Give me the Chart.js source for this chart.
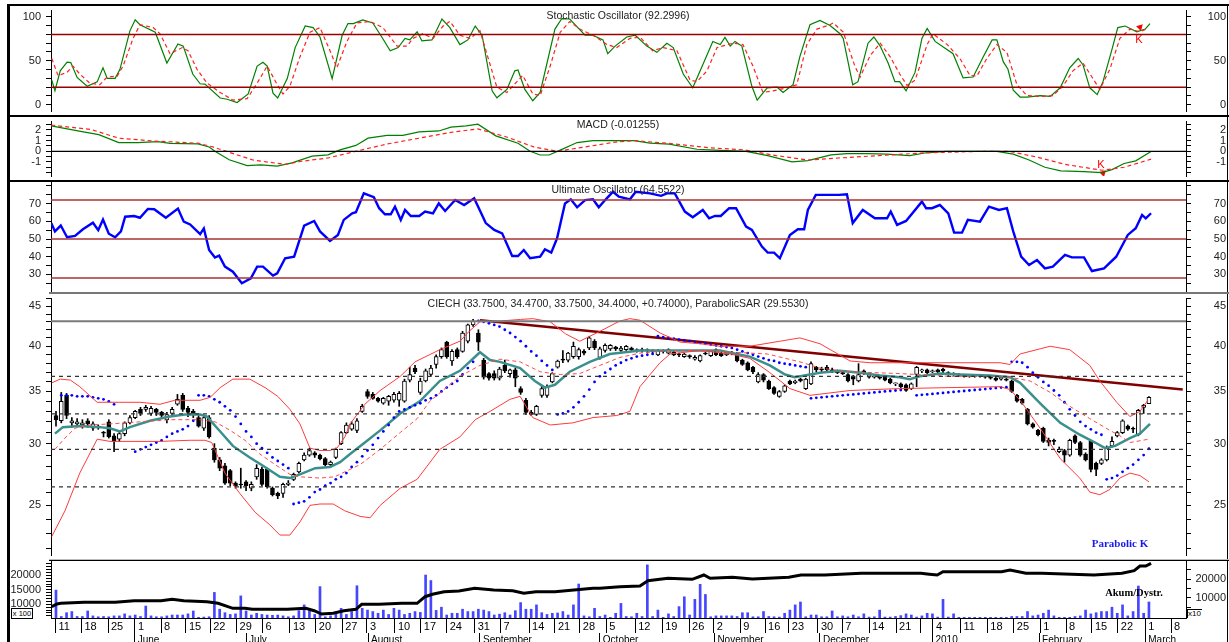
<!DOCTYPE html>
<html><head><meta charset="utf-8">
<script src="https://cdn.jsdelivr.net/npm/chart.js@4.4.1/dist/chart.umd.min.js"></script>
<style>
body{margin:0;background:#fff;width:1229px;height:642px;overflow:hidden;position:relative;font-family:"Liberation Sans",Arial,sans-serif;}
canvas{position:absolute;}
.ln{position:absolute;}
.t{position:absolute;white-space:nowrap;font-size:10.5px;color:#222;transform:translate(-50%,-50%);}
</style></head><body>
<canvas id="c1" width="1216" height="109" style="left:10px;top:6px"></canvas>
<canvas id="c2" width="1216" height="63" style="left:10px;top:117px"></canvas>
<canvas id="c3" width="1216" height="110" style="left:10px;top:182px"></canvas>
<canvas id="c4" width="1216" height="265" style="left:10px;top:294px"></canvas>
<canvas id="c5" width="1216" height="81" style="left:10px;top:561px"></canvas>

<div class="ln" style="left:7px;top:4px;width:3px;height:638px;background:#000"></div>
<div class="ln" style="left:7px;top:4px;width:1222px;height:2px;background:#000"></div>
<div class="ln" style="left:1227px;top:4px;width:1px;height:638px;background:#000"></div>
<div class="ln" style="left:7px;top:115px;width:1222px;height:2px;background:#000"></div>
<div class="ln" style="left:7px;top:180px;width:1222px;height:2px;background:#000"></div>
<div class="ln" style="left:49px;top:292px;width:1180px;height:2px;background:#777"></div>
<div class="ln" style="left:49px;top:559px;width:1180px;height:1px;background:#bbb"></div>
<div class="ln" style="left:49px;top:560px;width:1180px;height:1px;background:#000"></div>

<div class="t" style="left:618px;top:15px">Stochastic Oscillator (92.2996)</div>
<div class="t" style="left:618px;top:124px">MACD (-0.01255)</div>
<div class="t" style="left:618px;top:189px">Ultimate Oscillator (64.5522)</div>
<div class="t" style="left:618px;top:303px">CIECH (33.7500, 34.4700, 33.7500, 34.4000, +0.74000), ParabolicSAR (29.5530)</div>
<div class="t" style="left:1139px;top:39px;color:#f00;font-size:11px">K</div>
<div class="t" style="left:1101px;top:164px;color:#f00;font-size:11px">K</div>
<div class="t" style="left:1120px;top:543px;color:#1a1aee;font-family:'Liberation Serif',serif;font-weight:bold;font-size:11px">Parabolic K</div>
<div class="t" style="left:1134px;top:592px;color:#000;font-family:'Liberation Serif',serif;font-weight:bold;font-size:10.5px">Akum/Dystr.</div>
<div class="ln" style="left:11px;top:608px;width:20px;height:9px;border:1px solid #000;font-size:7.5px;line-height:9px;text-align:center;white-space:nowrap;background:#fff;overflow:hidden">x 100</div>
<div class="ln" style="left:1187px;top:609px;width:14px;height:8px;border-left:1px solid #000;border-top:1px solid #000;font-size:8px;line-height:8px;white-space:nowrap;background:#fff">x10</div>

<script>
// ---------- DATA ----------
const openP = [
32.6,32.1,34.6,31.9,31.8,31.7,32.1,31.4,31.6,31.0,
32.0,30.7,30.4,30.9,31.9,32.4,33.2,33.2,32.8,33.2,
32.9,32.2,32.8,33.7,34.6,33.3,33.0,32.4,31.4,32.4,
29.6,28.6,28.1,27.7,26.7,26.6,26.8,26.3,27.2,27.8,
27.8,26.3,25.9,25.9,26.6,27.0,27.6,28.6,29.0,29.2,
29.0,28.7,28.2,28.8,30.0,31.0,31.3,31.2,33.0,35.0,
34.7,34.3,33.8,34.0,34.1,34.1,34.0,36.2,37.5,34.9,
36.1,36.8,37.9,38.8,40.5,38.3,39.6,39.4,40.6,42.6,
41.6,38.4,36.9,36.9,36.4,37.8,36.9,37.3,35.3,34.1,
32.9,32.7,34.6,34.6,36.0,37.6,38.5,38.4,38.8,38.8,
39.4,39.8,40.6,38.7,39.5,39.7,39.9,39.5,39.6,39.8,
39.5,39.6,39.5,39.4,39.0,39.5,39.2,39.3,39.1,38.8,
38.9,38.5,38.3,39.2,38.9,39.6,39.2,39.0,39.3,39.2,
38.4,38.1,37.6,36.0,36.8,36.1,35.4,34.5,35.0,36.1,
35.9,36.3,35.3,35.8,37.6,37.4,37.6,37.3,37.1,37.0,
36.8,36.6,36.1,37.2,36.5,36.5,36.5,36.5,36.3,35.8,
35.8,35.7,35.3,36.8,37.2,37.3,37.1,37.3,37.4,36.8,
36.9,36.8,36.7,36.6,36.7,36.6,36.6,36.5,36.4,36.3,
36.3,36.1,34.6,34.2,33.2,31.8,31.2,31.4,30.3,30.3,
29.3,29.4,29.0,30.7,30.1,29.1,30.2,28.3,28.3,28.6,
29.8,30.7,31.0,31.6,31.4,30.8,33.4,33.75];
const highP = [
33.0,34.9,34.8,32.4,32.3,32.2,32.3,32.0,31.7,31.1,
32.2,30.9,31.0,32.0,32.6,33.1,33.4,33.6,33.5,33.3,
33.0,32.9,33.4,34.7,34.8,33.5,33.2,32.6,32.5,32.6,
30.0,28.8,28.3,27.8,26.8,27.9,26.9,26.8,28.2,28.0,
27.9,26.4,26.0,26.7,26.9,27.5,28.4,29.2,29.6,29.3,
29.1,28.8,28.5,29.6,31.1,31.9,32.0,32.3,33.7,35.2,
34.9,34.4,34.4,34.6,34.9,35.0,36.3,37.6,37.8,36.4,
37.4,37.8,39.0,39.8,40.6,39.6,39.8,41.8,42.7,43.3,
42.0,38.6,37.0,37.2,37.6,38.4,37.4,37.5,35.5,34.3,
33.1,33.6,35.6,35.7,37.0,38.4,39.5,39.3,40.5,39.8,
39.6,41.2,40.8,39.9,40.3,40.2,40.0,40.0,40.1,39.9,
39.7,39.8,39.7,39.6,39.6,39.6,39.7,39.4,39.2,39.2,
39.0,38.9,39.0,39.3,39.5,39.7,39.3,39.4,39.4,39.3,
38.5,38.2,37.7,37.0,36.9,36.2,35.5,35.1,35.7,36.2,
36.2,36.4,36.4,38.2,37.7,37.6,37.8,37.5,37.3,37.1,
36.9,36.7,38.0,37.3,36.9,36.7,36.6,36.6,36.4,35.9,
35.9,35.8,35.9,37.7,37.4,37.4,37.3,37.4,37.5,37.1,
37.0,36.9,36.8,36.8,36.8,36.7,36.7,36.6,36.5,36.6,
36.4,36.2,34.7,34.3,33.3,31.9,31.3,31.5,30.5,30.4,
29.7,29.5,30.4,30.8,30.2,29.2,30.3,28.4,28.7,29.8,
30.6,31.1,32.2,31.7,31.5,33.2,33.7,34.47];
const lowP = [
31.6,31.9,32.3,31.5,31.6,31.4,31.5,31.2,31.3,30.6,
30.5,29.3,30.2,30.7,31.8,32.3,32.6,33.0,32.6,32.6,
32.3,31.9,32.7,33.6,33.0,32.5,32.4,31.5,31.2,30.5,
28.4,27.7,26.6,26.5,26.3,26.3,26.1,26.1,27.0,26.5,
26.3,25.7,25.5,25.6,26.5,26.9,27.5,28.5,28.9,28.8,
28.6,28.1,28.0,28.7,29.9,30.9,31.2,31.0,32.9,34.3,
34.2,33.9,33.7,33.6,33.9,33.5,33.9,36.0,36.9,34.7,
36.0,36.6,37.5,38.6,38.6,37.8,38.6,39.3,40.4,42.4,
39.5,36.3,36.2,36.2,36.2,37.0,36.5,35.5,34.7,32.7,
32.6,32.6,34.4,34.4,35.9,37.5,38.1,38.2,38.6,38.5,
39.0,39.6,39.6,38.5,39.3,39.5,39.5,39.4,39.5,39.4,
39.3,39.3,39.2,39.2,38.9,39.2,39.1,38.9,38.8,38.7,
38.6,38.4,38.2,39.0,38.8,38.9,38.8,38.9,39.0,38.2,
37.8,37.2,36.9,35.9,36.0,35.2,34.7,34.4,34.9,35.7,
35.8,36.0,35.2,35.7,37.1,37.1,37.2,37.0,36.9,36.8,
36.0,35.7,36.0,36.8,36.4,36.4,36.3,36.1,35.8,35.6,
35.4,35.0,35.2,35.5,37.0,36.9,37.0,37.0,36.9,36.7,
36.7,36.6,36.5,36.5,36.5,36.5,36.4,36.3,36.1,36.2,
36.1,34.9,33.9,33.7,31.7,31.4,30.7,30.1,29.8,29.9,
29.2,28.4,28.9,30.0,28.9,28.5,27.6,27.3,28.2,28.5,
29.7,30.6,30.9,31.2,31.0,30.7,32.8,33.75];
const closeP = [
32.2,34.0,32.6,32.1,32.0,31.9,31.8,31.8,31.5,30.95,
30.6,30.2,30.9,31.9,32.4,33.0,32.8,33.4,33.3,32.9,
32.6,32.7,33.2,34.2,33.2,32.9,32.7,31.6,32.4,30.6,
28.6,27.9,26.7,26.7,26.5,26.55,26.5,26.6,27.9,26.6,
26.4,25.8,25.7,26.6,26.7,27.4,28.3,29.0,29.4,29.0,
28.7,28.2,28.4,29.5,31.0,31.7,31.8,32.1,33.5,34.5,
34.3,34.0,34.3,34.5,34.7,34.8,36.1,36.8,37.1,36.1,
37.2,37.5,38.8,39.6,38.8,39.4,38.8,41.6,42.6,43.1,
40.5,36.5,36.4,36.4,37.4,37.2,37.3,36.4,34.9,32.9,
32.7,33.5,35.3,35.5,36.9,38.3,38.4,39.2,40.0,39.6,
39.2,41.0,39.8,39.7,40.1,40.1,39.7,39.8,40.0,39.6,
39.6,39.5,39.6,39.4,39.5,39.4,39.6,39.0,39.0,39.1,
38.8,38.7,38.9,39.1,39.4,39.0,38.9,39.3,39.1,38.3,
37.9,37.3,37.1,36.8,36.2,35.3,34.8,35.0,35.6,35.8,
36.1,36.1,36.3,38.0,37.3,37.3,37.3,37.1,37.0,36.9,
36.1,36.3,36.8,36.9,36.8,36.6,36.4,36.2,35.9,35.8,
35.5,35.1,35.8,37.6,37.2,37.0,37.2,37.1,37.2,37.0,
36.8,36.7,36.6,36.7,36.6,36.6,36.5,36.4,36.2,36.5,
36.2,35.0,34.0,33.8,31.8,31.5,30.8,30.2,30.1,30.2,
29.5,29.0,30.3,30.1,29.0,28.6,27.8,27.8,28.6,29.6,
30.2,31.0,32.1,31.3,31.3,33.1,33.6,34.40];
const volume = [
14900,5800,7100,7500,5800,5800,7700,6000,5700,5800,
5700,6000,6000,6700,6000,6300,5800,9400,6000,5700,
5700,6000,6300,6300,6300,6700,7700,5500,5600,5700,
14100,8300,7100,6500,6700,12900,7700,6300,6900,6500,
6300,6200,6300,6000,5700,6000,7800,9800,7800,6500,
16100,5700,6000,6900,8600,6500,7500,16400,8600,8000,
7500,6900,8000,6500,8600,8000,6500,6900,7500,7200,
20100,18200,7900,9000,6300,6900,6900,8300,7500,7500,
8300,8000,7500,6300,6600,7100,6300,7800,10600,8300,
8300,9800,7100,6500,6900,7000,7500,6300,9800,17000,
6000,5700,8600,5800,6300,5500,6900,10300,5800,5700,
6900,5800,23600,5800,8000,5500,6700,5800,9200,12600,
6300,11700,16900,13400,5700,6000,6000,6000,6000,5800,
7100,7100,5700,5700,7500,5800,5700,5600,6900,8000,
9800,10800,5700,6300,6300,5700,5700,7700,5700,6000,
5700,6300,5700,6700,5600,5700,8000,5600,5600,5800,
6100,6700,6300,5600,6000,6900,6700,5600,11700,5600,
6700,5500,5500,5500,5500,5500,5500,5500,5500,5500,
5500,5800,5800,5800,7500,6000,6300,6900,8000,6000,
5500,5500,5500,5800,6000,8000,6700,7100,7500,7500,
9000,6900,9800,6000,7500,16300,6900,10800];
const parabolicSar = [null,
34.6,34.6,34.6,34.5,34.5,34.5,34.4,34.3,34.2,34.0,33.7,
null,null,null,
29.3,29.5,29.7,29.9,30.1,30.3,30.6,30.9,31.1,31.3,31.6,32.1,
34.6,34.6,34.5,34.2,33.9,33.5,33.1,32.5,31.8,31.1,30.6,30.0,29.6,29.2,28.8,28.5,28.2,27.9,
25.1,25.2,25.3,25.6,26.0,26.2,26.5,26.7,27.0,27.2,27.5,28.0,28.4,28.9,29.4,29.9,30.5,31.1,31.7,32.4,
33.0,33.2,33.4,33.6,33.8,34.1,34.3,34.6,35.0,35.4,35.8,36.1,36.8,37.5,38.2,
43.1,43.0,42.8,42.6,42.4,42.0,41.6,41.1,40.6,40.0,39.4,38.9,38.3,37.8,37.3,
32.7,32.8,33.0,33.4,33.9,34.5,35.2,36.0,36.6,37.0,37.4,37.8,38.1,38.4,38.6,38.8,38.9,39.0,39.1,
41.2,41.1,41.0,40.9,40.8,40.7,40.6,40.5,40.4,40.3,40.2,40.1,40.0,39.9,39.8,39.6,39.4,39.2,39.0,38.8,38.6,38.4,38.3,38.1,38.0,37.9,37.8,37.7,37.6,
34.3,34.35,34.4,34.45,34.5,34.55,34.6,34.65,34.7,34.75,34.8,34.85,34.9,34.95,35.0,35.05,35.1,35.15,
null,null,
34.6,34.65,34.7,34.75,34.8,34.85,34.9,34.95,35.0,35.05,35.1,35.15,35.2,35.25,35.3,35.35,35.4,35.45,
38.2,38.2,38.1,37.6,37.0,36.5,36.0,35.6,35.1,34.6,33.9,33.2,32.6,32.0,31.6,31.3,31.0,30.8,
27.0,27.1,27.3,27.6,27.9,28.2,28.6,29.0,29.55];

// [trading-day index, value]
const maFast = [[-0.2,30.9],[1.3,31.5],[4.5,31.6],[8.3,31.5],[10.2,31.4],[12.1,31.1],[14,31.5],[17.8,32.1],[21.6,32.5],[24.4,32.7],[27.3,32.7],[28.6,32.5],[31.1,31.1],[33.5,29.8],[36.7,28.8],[39.2,28.1],[42.4,27.2],[44.3,27.1],[46.2,27.4],[49.1,27.9],[51.9,28.0],[53.8,28.4],[55.7,29.1],[58.5,30.1],[61.4,31.2],[65.2,32.8],[68.9,34.0],[72.7,36.1],[76.5,37.2],[80.3,39.3],[82.2,38.4],[84.1,38.2],[87.9,37.5],[90.7,36.1],[92.6,35.4],[94.5,35.7],[97.3,37.1],[101.1,38.2],[104.9,39.1],[110.6,39.5],[118.2,39.5],[125.8,39.5],[131.4,38.8],[135.2,37.8],[138.1,36.8],[139.9,36.5],[142.8,36.8],[144.7,37.0],[148.5,37.2],[152.3,37.0],[156.1,36.7],[159.8,36.5],[161.7,36.3],[163.6,36.6],[167.4,36.9],[171.2,36.8],[176.9,36.7],[180.7,36.5],[182.6,35.9],[186.4,33.8],[190.2,31.9],[193.9,30.8],[196.8,30.1],[198.7,29.6],[200.6,29.8],[203.4,30.5],[205.3,30.9],[207.2,31.8]];
const bbUpper = [[-0.8,35.9],[0.8,36.3],[2.7,36.2],[4.5,35.5],[7.8,33.9],[12.1,33.9],[15.9,33.9],[19.7,33.7],[22.5,34.1],[27.3,34.1],[29.2,34.4],[31.1,35.4],[33.5,36.3],[36.7,36.3],[39.6,35.4],[42,34.5],[44.3,33.2],[46.2,31.8],[48.1,29.6],[50,29.4],[51.9,29.4],[53.2,29.6],[54.7,30.6],[55.7,31.8],[58.5,33.7],[61.4,35.1],[65.2,36.6],[68,38.2],[72.7,39.6],[76.5,40.6],[78.4,41.9],[80.3,43.0],[84.1,43.1],[88,43.3],[90.3,43.4],[93.6,43.0],[96.5,41.5],[99.2,40.6],[103,41.8],[106.8,43.1],[108.7,43.4],[110.6,43.2],[114.4,41.6],[118.2,40.5],[122,40.3],[125.8,40.0],[131.4,40.0],[137.1,40.6],[140.9,41.0],[144.7,40.3],[150.4,38.3],[154.2,38.1],[160,38.1],[170,38.1],[178.8,38.1],[180.7,37.9],[182.6,39.1],[186.4,39.7],[188.3,40.0],[192,39.6],[195.8,37.8],[197.7,36.1],[200.9,33.9],[203.4,32.5],[205.3,33.0],[206.8,34.1]];
const bbMiddle = [[-0.2,29.5],[1.7,30.5],[3.6,31.4],[6.4,31.7],[10.2,31.8],[15.9,32.0],[21.6,32.2],[27.3,32.2],[30.1,32.0],[33,31.2],[35.8,30.3],[38.6,29.1],[41.5,28.2],[44.3,27.4],[46.2,27.2],[50,27.1],[52.8,27.2],[54.7,27.6],[57.6,28.2],[61.4,29.5],[65.2,31.0],[68.4,32.3],[70.8,34.0],[76.5,36.6],[80.3,37.8],[84.1,38.5],[87.9,38.2],[91.7,37.1],[95.5,36.8],[99.2,36.9],[103,37.8],[106.8,38.7],[110.6,39.2],[115.7,39.5],[122,39.5],[128.2,39.3],[134.7,39.1],[140.9,38.2],[144.7,37.5],[150.4,37.1],[159.8,36.9],[169.3,36.6],[178.8,36.6],[180.7,36.5],[184.5,36.1],[188.3,34.9],[192,33.5],[195.8,32.3],[199.6,31.2],[201.5,30.7],[203.4,30.1],[207,30.4]];
const bbLower = [[-0.8,22.8],[1.7,24.6],[4.5,27.5],[7.8,30.4],[10.2,30.2],[14,30.2],[19.7,30.2],[25.4,30.3],[28.2,30.3],[29.5,30.1],[32,27.5],[34.8,25.9],[37.7,24.5],[40.5,23.6],[42.4,22.9],[44.3,22.9],[46.2,23.8],[48.1,25.0],[50,25.1],[52.5,25.1],[54.7,24.6],[57.6,24.2],[59.5,24.1],[61.4,25.0],[65.2,26.3],[68.4,27.0],[72.7,29.5],[76.5,30.6],[79.4,32.2],[82.2,33.0],[86,34.2],[87.9,34.5],[90.3,32.4],[93.6,31.7],[97.9,31.9],[101.7,32.4],[106.2,32.6],[108.7,33.0],[110.6,35.5],[114.4,38.1],[116.3,39.1],[122,39.5],[127.7,39.1],[131.4,38.6],[135.2,37.0],[139,35.3],[142.8,34.6],[150.4,35.1],[159.8,35.3],[169.3,35.4],[178.8,35.5],[180.7,35.2],[182.6,34.1],[186.4,31.4],[190.2,28.7],[193.9,27.1],[195.8,26.0],[197.7,25.8],[199.6,26.2],[201.5,27.1],[203.4,27.5],[205.3,27.3],[207,26.8]];
const trendLine = [[80.3,43.2],[213.4,35.2]];
const levelSolid = [43.07];
const levelsDashed = [36.6, 32.75, 29.5, 26.4];

const stochK = [[-0.8,28],[-0.2,16],[0.8,38.6],[2.1,48.4],[2.8,48],[4,31],[5.9,21],[7.8,26],[8.9,42],[9.7,30],[11.2,30],[12.1,40],[14,84],[15,96.5],[15.9,91],[18.8,82.5],[21,47.4],[23.1,69],[24.1,66.7],[25.9,35],[27.3,23.9],[28.2,23.5],[31.1,7.7],[32.4,6.3],[34.3,2.5],[36.4,12.3],[38.1,44],[39.2,48.4],[40,44],[41.1,13.3],[42,7.7],[43.8,29.8],[45.3,65],[47.2,89.5],[48.7,87.7],[50,77],[52.3,29.8],[54.2,79],[55.3,92.3],[56.3,92.3],[58.1,96.5],[60,93],[61.7,77],[63.3,61.4],[64.8,65],[66.1,75.4],[67,73.7],[68.4,83],[69.3,72.6],[71.2,73.7],[73.1,97.5],[74.6,87.7],[76.5,68.4],[78,73.7],[79.4,89.5],[80.7,79],[82.6,15.8],[83.5,8],[85.4,17.5],[86.9,38.6],[87.5,39.6],[88.8,17.5],[90.3,4.6],[91.7,14],[94.5,86],[95.8,98],[97.3,97.5],[100.2,79],[101.7,79],[103.6,73.7],[104.5,58],[105.9,66.7],[108.1,77],[109.7,79],[111.9,66.7],[113.8,59.6],[115.7,70],[116.9,65],[118.8,35],[120.6,19.3],[122.5,45.6],[124.4,72],[125.8,68.4],[126.7,76.5],[127.7,66.7],[128.6,72],[129.9,66.7],[131.8,21],[132.8,5.3],[134.7,19.3],[136.6,20],[137.7,14],[139.6,22.8],[140.9,55],[142.8,91],[144.7,95.8],[146.6,90],[148.5,80.7],[149.1,75.4],[150.9,22.8],[151.9,26.3],[153.8,70],[154.9,77],[156.1,66.7],[157.6,47.4],[158.9,26.3],[159.8,26.3],[161,15.8],[162.7,36.8],[164,75.4],[165,86.7],[166.5,72],[169.9,58],[171.8,30.5],[173.7,31.6],[175.6,54.4],[177.3,73.7],[178.2,73.7],[179.4,49],[180.3,40.4],[181.3,16.5],[182.6,8.8],[183.9,8.8],[186.4,10.5],[188.3,9.5],[190.2,19.3],[192,42],[193.6,52.6],[194.5,45.6],[195.8,19.3],[197.2,11.6],[198.3,26.3],[200,63],[201.1,87.7],[202.5,89.5],[204.7,83],[206.3,86],[207.2,92.3]];
const stochD = [[-0.8,52.6],[0.4,33],[2.1,37],[3.2,44],[4.5,35],[6.4,24.6],[8.3,22.8],[9.7,31.6],[11.6,32.6],[12.7,44],[14.6,75.4],[15.9,91],[18.4,87.7],[19.7,80.7],[21.6,58],[23.9,65],[25,61.4],[26.7,40.4],[28.6,24.6],[31.1,14],[33.5,5.3],[36.2,7],[38.1,24.6],[40,44],[41.9,22.8],[43,12.3],[44.3,21],[46.2,54.4],[48.1,82.5],[50,87.7],[51.9,61.4],[53.2,42],[55.1,72],[57,93],[59.5,94.7],[61.9,87.7],[64.6,66.7],[66.5,66.7],[67.6,75.4],[69.5,80.7],[71.4,75.4],[73.3,89.5],[74.6,94.7],[76.5,79],[78.4,75.4],[80.3,84],[81.6,58],[83.5,20],[85.4,14],[87.3,26.3],[88.4,33.3],[90.3,12.3],[91.7,10.5],[93.6,44],[95.5,82.5],[97.3,94.7],[99.2,86],[101.7,79],[104.4,68.4],[106.2,65],[108.7,75.4],[110.6,77],[113,61.4],[115,65],[117.6,61.4],[120.1,28],[121.4,26.3],[123.3,38.6],[125.2,65],[128.2,70],[130.1,68.4],[132,44],[133.9,14],[135.8,15.8],[138.4,19.3],[140.3,22.8],[142.2,68.4],[144.1,86],[146.6,91],[147.2,93],[149.1,82.5],[151.3,44],[152.3,31.6],[154.2,56],[156.1,70],[158,54.4],[159.8,35],[161.2,22],[162.7,28],[165,68.4],[166.1,80.7],[168.8,68.4],[171.2,52.6],[173.1,33.3],[174.4,32.6],[176.3,52.6],[178.2,68.4],[180.1,59.6],[182,22.8],[183.9,10.5],[186.4,9.5],[188.8,10.5],[190.7,21],[192.6,38.6],[194.5,47.4],[196.2,31.6],[197.7,17.5],[199.6,40.4],[201.5,75.4],[203.4,86],[205.3,83],[206.8,86.7]];
const stochLevels = [80, 20];
const stochSignal = [[205.3,88.2]];

const macdLine = [[-0.9,2.38],[4.4,1.9],[8.1,1.56],[11.9,0.82],[15.5,0.82],[19.3,0.9],[21.6,0.75],[26.9,0.7],[29,0.4],[30.1,0],[32.8,-0.8],[36.2,-1.35],[38.8,-1.27],[41.9,-1.4],[44.7,-1.09],[48.5,-0.46],[51.5,-0.33],[53.8,0.13],[56.8,0.55],[59.1,1.23],[62.7,1.5],[65.7,1.5],[68.8,1.83],[72.5,1.91],[74.8,2.27],[77.7,2.38],[79.9,2.54],[83.3,1.45],[87.5,0.76],[89.8,0],[91.7,-0.35],[93.4,-0.35],[95.6,0.13],[98.7,0.82],[101.7,1.0],[106.4,1.0],[109.5,1.0],[112.5,0.76],[116.1,0.68],[121.4,0.19],[125.9,0.08],[130.7,0],[134.8,-0.41],[139.4,-1.0],[142.4,-0.87],[146.8,-0.33],[149.8,-0.22],[153.6,-0.22],[157.4,-0.27],[161.7,-0.41],[164.8,-0.14],[168.6,0],[172.3,0],[178.2,0],[181.3,-0.27],[184.3,-0.82],[187.3,-1.5],[190.3,-1.83],[194.7,-1.9],[198.1,-2.0],[200,-1.72],[202.3,-1.15],[204.5,-0.9],[207.4,-0.01]];
const macdSignal = [[-0.9,2.46],[6.6,2.05],[11.9,1.23],[18.6,0.96],[26.9,0.76],[29.7,0.41],[37.3,-0.82],[43.4,-1.23],[46.2,-0.96],[51.5,-0.63],[56.8,0],[62.7,0.68],[68.8,1.23],[74.8,1.78],[79.9,2.1],[85.2,1.37],[90.5,0.41],[94.9,0],[100.2,0.41],[106.4,0.9],[109.5,1.0],[116.1,0.74],[123.7,0.33],[130.3,0.14],[136.4,-0.41],[142.4,-0.82],[148.3,-0.63],[157.4,-0.36],[164.8,-0.14],[175.9,0],[180.5,0],[185.8,-0.55],[191.1,-1.23],[198.1,-1.78],[202.3,-1.5],[207.4,-0.74]];
const macdSignalMark = [[198.3,-2.05]];

const ultOsc = [[-0.9,59],[-0.2,54.3],[0.9,57.6],[2.1,51],[3.6,51.7],[5.1,55.5],[7,59.2],[8,55],[8.9,61],[10,53],[11.2,51],[12.3,54.3],[13.1,62.6],[14.8,63],[15.9,62],[17.4,67],[18.6,66.8],[20.8,62],[23.1,67.2],[24.2,59.8],[25.4,58.2],[27.3,52.8],[28,56],[29,43.8],[30.1,39.5],[30.9,40.6],[32,34.4],[33.5,31.5],[35.2,25],[36.9,27.8],[38.1,34.4],[39.2,34.4],[41.1,29.3],[41.9,30.6],[43.4,39.1],[45.1,40],[47,57.6],[48.9,60.2],[50,54.3],[51.9,48.9],[53.4,52.3],[54.5,60.8],[56.1,64.5],[56.8,65.1],[58.3,75.8],[60.2,73.6],[61.2,67.4],[62.3,64],[63.4,64],[64.2,68.3],[65.3,60.8],[66.1,66.4],[67.2,63],[68.8,63],[69.9,65.5],[71.4,64.5],[72.5,70.1],[73.7,65.8],[75.6,72],[77.3,69.2],[79.2,73],[81.4,59],[83,55.1],[84.5,53.2],[86.4,40.4],[87.5,40.4],[88.6,43.8],[89.8,39.1],[91.7,40],[92.6,44.2],[93.8,42.3],[94.9,50.4],[96.4,70.1],[97.5,72.4],[98.7,67.9],[100.2,72],[101.7,72.4],[102.8,67.9],[104,72],[105.5,76.7],[106.6,73.9],[108.7,72.4],[109.8,76.7],[112.5,75.8],[114.6,74.4],[115.7,75.8],[117.2,75.8],[119.1,65.5],[120.6,62.3],[122.5,66.4],[123.7,61.7],[124.8,63],[125.9,63],[127.5,67.4],[128.8,67.4],[130.7,57],[131.8,55.1],[133.7,45.7],[134.8,42.3],[136,42.3],[137.1,39.1],[139,52.3],[140.5,55.5],[141.7,55.5],[142.4,66.4],[143.9,74.9],[148.3,74.9],[149.8,75.3],[150.9,59],[152.8,66.4],[155.1,61.7],[157.4,61.7],[158.1,65.5],[159.3,58],[161,60.2],[164,71.1],[164.8,67.4],[165.9,67.4],[167.4,69.2],[169,64.5],[170.1,53.6],[171.6,53.6],[172.7,60.8],[175,59.8],[176.7,68.3],[178.6,66.4],[180.1,67.4],[181.3,54.3],[182.8,40],[184.3,35.3],[185.8,38.1],[187.3,33.4],[188.8,34.4],[191.1,41],[192.4,39.6],[194.7,39.6],[196.2,31.9],[198.5,33.4],[200.8,40],[203,52.3],[204.5,56.1],[205.7,63.6],[206.4,61.7],[207.4,64.55]];
const ultLevels = [72, 50, 28];

const accDist = [[-0.8,5187],[0.2,6631],[0.9,7005],[5.3,7540],[11.2,7540],[14.8,8396],[19.9,8396],[22,9144],[24.2,8396],[28.6,7861],[30.7,7005],[33.5,4332],[35.8,4332],[37.2,3797],[43.8,3797],[47.3,4332],[48.9,3048],[50.3,1283],[52.5,1658],[54.5,3048],[56.8,3797],[57.9,6471],[61.2,6471],[65.5,7005],[68.4,7005],[69.9,10535],[71.3,11818],[73.5,13208],[76.3,13583],[79.3,15027],[82.9,14118],[86.5,13743],[88.6,12353],[90.9,13208],[94.5,13208],[98.1,14118],[101.7,15027],[103,15027],[106.8,15882],[110.6,16257],[112.1,19091],[115.9,20374],[120.5,19840],[122.7,22139],[123.9,20374],[128.1,20909],[131.9,20000],[138.8,20909],[141.1,22139],[145.6,22139],[152.5,23048],[163.8,23048],[165.4,22600],[166.9,22139],[168,23904],[179.1,23904],[180.7,24813],[183.7,23048],[186.7,23048],[196.6,22139],[201.9,23048],[204.2,24439],[205.3,26952],[206.4,26952],[207.4,28396]];

const weekTicks = [-0.1,4.83,9.85,14.96,19.9,24.6,29.2,34.2,39.1,44.3,49.2,54.2,58.9,64.2,69.1,74,79.3,84.2,89.6,94.5,99.2,104.2,109.7,114.8,119.9,124.6,129.6,134.3,138.8,144.3,148.9,154,159.1,163.8,166.1,171.3,176.4,181.4,186.4,191.3,196.2,201.1,206.3,211.2];
const weekLabels = ['11','18','25','1','8','15','22','29','6','13','20','27','3','10','17','24','31','7','14','21','28','5','12','19','26','2','9','16','23','30','7','14','21','','4','11','18','25','1','8','15','22','1','8'];
const monthTicks = [14.9,36,59.1,80.3,103,124.7,144.7,166,186.2,206.3];
const monthLabels = ['June','July','August','September','October','November','December','2010','February','March'];

// ---------- CHARTS ----------
Chart.defaults.font.family = '"Liberation Sans", Arial, sans-serif';
Chart.defaults.font.size = 11;
Chart.defaults.color = '#222';
const X_MIN = -0.947, X_MAX = 214.02;
const LEFT_W = 41, RIGHT_W = 40;

const pts = a => a.map(p => ({x: p[0], y: p[1]}));
const hline = v => [{x: X_MIN, y: v}, {x: X_MAX, y: v}];
const range = (a, b, s) => { const r = []; for (let v = a; v <= b + 1e-9; v += s) r.push(Math.round(v * 100) / 100); return r; };

function line(data, color, width, dash, extra) {
  return Object.assign({type: 'line', data, borderColor: color, borderWidth: width, borderDash: dash || [],
    pointRadius: 0, fill: false, tension: 0, order: 0, yAxisID: 'y'}, extra || {});
}
function yAxis(pos, min, max, tickVals, labelVals, type, rightPad) {
  return {
    type: type || 'linear', position: pos, min, max, beginAtZero: false,
    afterBuildTicks: s => { s.ticks = tickVals.map(v => ({value: v})); },
    afterFit: s => { s.width = pos === 'left' ? LEFT_W : RIGHT_W; s.paddingTop = 0; s.paddingBottom = 0; },
    ticks: {autoSkip: false, padding: pos === 'left' ? 5 : (rightPad || 4), crossAlign: pos === 'left' ? 'near' : 'far',
      color: '#222', font: {size: 11},
      callback: v => labelVals.indexOf(v) >= 0 ? String(v) : ''},
    grid: {drawOnChartArea: false, tickLength: 5, color: '#000', offset: false},
    border: {color: '#000', width: 1}
  };
}
const xHidden = {type: 'linear', min: X_MIN, max: X_MAX, display: false, offset: false, grid: {offset: false}};
function opts(scales) {
  return {responsive: false, maintainAspectRatio: false, animation: false, devicePixelRatio: 1,
    layout: {padding: 0}, events: [],
    plugins: {legend: {display: false}, tooltip: {enabled: false}, title: {display: false}},
    scales};
}
function both(min, max, ticks, labels, type, rightPad) {
  return {y: yAxis('left', min, max, ticks, labels, type), y2: yAxis('right', min, max, ticks, labels, type, rightPad)};
}

// Stochastic
new Chart(document.getElementById('c1'), {
  type: 'line',
  data: {datasets: [
    ...stochLevels.map(v => line(hline(v), '#990000', 1.5)),
    line(pts(stochD), '#ff2020', 1.2, [4, 3]),
    line(pts(stochK), '#008000', 1.2),
    line(pts(stochSignal), '#ff0000', 0, [], {showLine: false, pointRadius: 4, pointStyle: 'triangle', rotation: 45, pointBackgroundColor: '#ff0000', pointBorderWidth: 0})
  ]},
  options: opts(Object.assign({x: xHidden}, both(-7.05, 107.7, range(0, 100, 10), [0, 50, 100], 'linear', 15)))
});

// MACD
new Chart(document.getElementById('c2'), {
  type: 'line',
  data: {datasets: [
    line(hline(0), '#000', 1.2),
    line(pts(macdSignal), '#ff2020', 1.2, [4, 3]),
    line(pts(macdLine), '#008000', 1.2),
    line(pts(macdSignalMark), '#ff0000', 0, [], {showLine: false, pointRadius: 4, pointStyle: 'triangle', rotation: 45, pointBackgroundColor: '#ff0000', pointBorderWidth: 0})
  ]},
  options: opts(Object.assign({x: xHidden}, both(-2.32, 2.844, range(-2, 2.5, 0.5), [-1, 0, 1, 2], 'linear', 24)))
});

// Ultimate oscillator
new Chart(document.getElementById('c3'), {
  type: 'line',
  data: {datasets: [
    ...ultLevels.map(v => line(hline(v), '#a83232', 1.6)),
    line(pts(ultOsc), '#0000ff', 2.4)
  ]},
  options: opts(Object.assign({x: xHidden}, both(20.06, 82.2, range(20, 80, 5), [30, 40, 50, 60, 70], 'linear', 21)))
});

// Price
const dayIdx = closeP.map((_, i) => i);
new Chart(document.getElementById('c4'), {
  type: 'bar',
  data: {datasets: [
    line(hline(levelSolid[0]), '#7a7a7a', 2),
    ...levelsDashed.map(v => line(hline(v), '#333', 1.3, [4, 4])),
    line(pts(bbUpper), '#ff3a3a', 1),
    line(pts(bbLower), '#ff3a3a', 1),
    line(pts(bbMiddle), '#ff4a4a', 1, [4, 3]),
    {type: 'bar', data: dayIdx.map(i => ({x: i, y: [lowP[i], highP[i]]})), backgroundColor: '#000',
      barThickness: 1, grouped: false, order: 3, yAxisID: 'y'},
    {type: 'bar', data: dayIdx.map(i => ({x: i, y: [openP[i], closeP[i]]})),
      backgroundColor: dayIdx.map(i => closeP[i] >= openP[i] ? '#fff' : '#000'),
      borderColor: '#000', borderWidth: 1, borderSkipped: false, barThickness: 4, minBarLength: 1,
      grouped: false, order: 2, yAxisID: 'y'},
    line(pts(maFast), '#3b8f8c', 2.5, [], {order: 1}),
    line(pts(trendLine), '#800000', 2.5, [], {order: 1}),
    line(dayIdx.map(i => ({x: i, y: parabolicSar[i]})), '#0000ff', 0, [], {showLine: false, pointRadius: 1.4,
      pointBackgroundColor: '#0000ff', pointBorderWidth: 0, order: 0})
  ]},
  options: opts(Object.assign({x: xHidden}, both(21.59, 46.13, range(22, 46, 1), [25, 30, 35, 40, 45], 'logarithmic', 21)))
});

// Volume + Accumulation/Distribution + date axis
const volLeft = yAxis('left', 5273, 24939, range(6000, 24000, 1000), [10000, 15000, 20000]);
const adRight = yAxis('right', -856, 29627, range(0, 25000, 5000), [10000, 20000], 'linear', 4);
new Chart(document.getElementById('c5'), {
  type: 'bar',
  data: {datasets: [
    {type: 'bar', data: dayIdx.map(i => ({x: i, y: volume[i]})), backgroundColor: '#4646ff',
      barThickness: 2, grouped: false, order: 2, yAxisID: 'y'},
    line(pts(accDist), '#000', 3, [], {yAxisID: 'y2', order: 0})
  ]},
  options: opts({
    x: {type: 'linear', position: 'bottom', min: X_MIN, max: X_MAX, offset: false,
      afterBuildTicks: s => { s.ticks = weekTicks.map(v => ({value: v})); },
      afterFit: s => { s.height = 15; s.paddingLeft = 0; s.paddingRight = 0; },
      ticks: {autoSkip: false, maxRotation: 0, minRotation: 0, align: 'start', labelOffset: 3, padding: -13,
        color: '#000', font: {size: 11}, callback: (v, i) => weekLabels[i]},
      grid: {drawOnChartArea: false, tickLength: 15, color: '#000', offset: false},
      border: {color: '#000', width: 1}},
    x2: {type: 'linear', position: 'bottom', min: X_MIN, max: X_MAX, offset: false,
      afterBuildTicks: s => { s.ticks = monthTicks.map(v => ({value: v})); },
      afterFit: s => { s.height = 9; s.paddingLeft = 0; s.paddingRight = 0; },
      ticks: {autoSkip: false, maxRotation: 0, minRotation: 0, align: 'start', labelOffset: 3, padding: -8,
        color: '#000', font: {size: 10}, callback: (v, i) => monthLabels[i]},
      grid: {drawOnChartArea: false, tickLength: 9, color: '#000', offset: false},
      border: {display: false}},
    y: volLeft,
    y2: adRight
  })
});
</script>
</body></html>
